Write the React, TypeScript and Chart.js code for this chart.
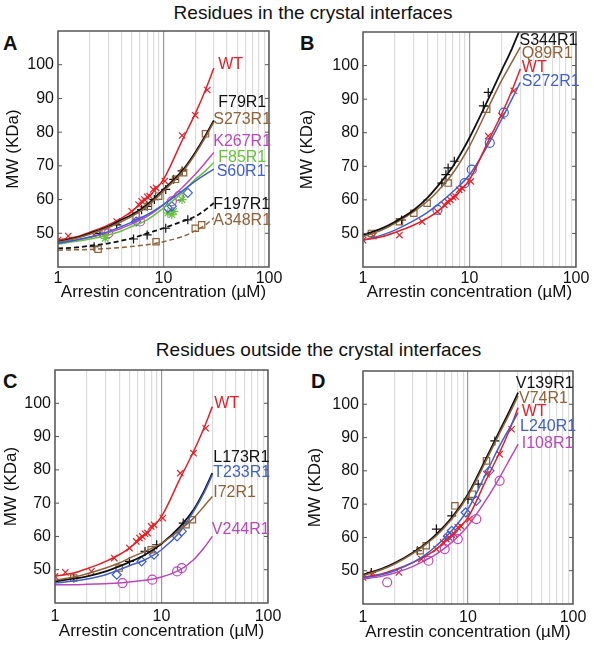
import React, { useEffect, useRef } from 'react';
import { Chart, registerables } from 'chart.js';
Chart.register(...registerables);

// ---------- data ----------
const FIT_X = [1, 1.5, 2, 3, 4, 5, 7, 10, 15, 20, 25, 30];
const X_TICKS = [1, 2, 3, 4, 5, 6, 7, 8, 9, 10, 20, 30, 40, 50, 60, 70, 80, 90, 100];
const X_LABELS = [1, 10, 100];
const Y_TICKS = [50, 60, 70, 80, 90, 100];

const WT_FIT = [48, 49, 50.3, 52.5, 54.5, 56.5, 60.5, 66, 77.5, 85.5, 92.5, 99];
const WT_PX = [1, 1.25, 2.2, 3.6, 5, 5.8, 6.2, 6.6, 7, 7.4, 8, 8.5, 10.3, 15, 20, 26];
const WT_PY = [48, 49.2, 49.5, 53.5, 56.5, 58.5, 59.5, 60, 60.8, 61, 63, 63.5, 65.5, 79, 85, 92.5];

// Panel A
const F79_FIT = [47.5, 48.7, 50, 52, 54, 55.5, 58.5, 63, 68.5, 74, 79, 83.5];
const F79_PX = [2.5, 3.6, 6.2, 7, 8.2, 10.5, 12.5, 15];
const F79_PY = [50, 52.5, 57, 58, 60, 63, 66, 68.5];
const S273_FIT = [47.3, 48.5, 49.7, 51.7, 53.5, 55, 58, 62.5, 68, 73.5, 78.5, 83];
const S273_PX = [2.8, 5.5, 7.2, 9, 13, 15.5, 25];
const S273_PY = [50.5, 55, 58, 61, 66, 68, 79.5];
const K267_FIT = [47, 48, 48.8, 50.2, 51.5, 52.8, 55, 58.5, 63.5, 67.5, 71, 74];
const K267_PX = [3, 6, 12, 14];
const K267_PY = [50, 53.5, 59.5, 61];
const F85_FIT = [46.8, 47.6, 48.3, 49.5, 50.7, 52, 54, 57.5, 62, 66, 68.5, 71];
const F85_PX = [2.8, 11, 12, 12.5, 15];
const F85_PY = [48.5, 56, 55.5, 56.5, 60];
const S60_FIT = [47, 48, 48.9, 50.5, 52, 53.3, 55.5, 58.5, 62.5, 65.5, 67.5, 69];
const S60_PX = [5.5, 11, 12, 17];
const S60_PY = [53.5, 57.5, 58, 62];
const F197_FIT = [45.5, 45.8, 46.3, 47, 47.8, 48.5, 50, 51.5, 53.5, 55, 57, 59];
const F197_PX = [2.2, 5.2, 7, 10.5, 17];
const F197_PY = [46, 48.3, 49.5, 51.5, 54];
const A348_FIT = [45, 45.1, 45.2, 45.5, 45.8, 46.1, 46.6, 47.5, 49, 50.7, 52.5, 54.6];
const A348_PX = [2.4, 8.5, 20, 23];
const A348_PY = [45.3, 47.5, 51.5, 52.5];

// Panel B
const S344_FIT = [49.5, 51.5, 53.5, 57, 60.5, 64, 70, 78.5, 90, 98.5, 105, 111];
const S344_PX = [2.3, 5.5, 6, 6.3, 7.2, 13.5, 15];
const S344_PY = [54, 65, 67.5, 69.5, 71.5, 88, 92];
const Q89_FIT = [49, 51, 53, 56.5, 59.5, 62.5, 68, 76, 87.5, 95.5, 101, 105.5];
const Q89_PX = [1.2, 2.2, 3, 4, 6.3, 14.5];
const Q89_PY = [50, 53.5, 56, 59, 65, 87];
const S272_FIT = [48, 49.5, 51, 53.8, 56.2, 58.5, 62.5, 67.5, 76.5, 84, 90, 95];
const S272_PX = [5, 9, 10.5, 15.5, 21];
const S272_PY = [57, 65, 69, 77, 86];

// Panel C
const L173_FIT = [46.5, 47.3, 48, 49.5, 51, 52.3, 54.5, 57.8, 63, 68, 73.5, 79];
const L173_PX = [1.5, 5, 7, 9, 16];
const L173_PY = [47.5, 52.5, 55.5, 57.5, 64];
const T233_FIT = [46, 46.6, 47.2, 48.5, 50, 51.2, 53, 56, 61.5, 67.5, 73, 78.5];
const T233_PX = [3.8, 6.5, 8.5, 14, 15.5];
const T233_PY = [48.5, 52.5, 54.5, 60, 61.5];
const I72_FIT = [46.8, 47.8, 48.8, 50.5, 52, 53.5, 55.5, 58, 62, 65.5, 69, 72];
const I72_PX = [1.5, 4, 8, 17, 19.5];
const I72_PY = [47.5, 50.5, 56, 63.5, 65];
const V244_FIT = [45.5, 45.5, 45.6, 45.8, 46, 46.3, 46.8, 47.8, 50, 53, 56.5, 60];
const V244_PX = [4.3, 8.2, 14, 15.5];
const V244_PY = [46, 47, 49.5, 50.5];

// Panel D
const V139_FIT = [48.8, 50.6, 52.3, 55.5, 58.3, 61, 66, 73, 84, 92, 98.2, 103.5];
const V139_PX = [1.2, 3.3, 5, 7, 10, 12.5, 18];
const V139_PY = [49.5, 56, 62.5, 66.5, 71.5, 76, 89];
const V74_FIT = [48.5, 50.3, 52, 55.2, 58, 60.5, 65.5, 72.5, 83.3, 91.3, 97.3, 102.5];
const V74_PX = [3.5, 4, 7.5, 11, 15];
const V74_PY = [56, 57.5, 69.5, 73, 83];
const L240_FIT = [47.8, 48.8, 50, 52.5, 55, 57.5, 62, 68.5, 79.5, 87.5, 93, 97.5];
const L240_PX = [6.5, 7, 9.5, 12, 16];
const L240_PY = [60.5, 62, 67.5, 71, 80];
const I108_FIT = [47.5, 48.3, 49.3, 51.3, 53.3, 55, 58.5, 63.5, 71.5, 78, 83.5, 88];
const I108_PX = [1.7, 4.2, 6, 8, 12, 20];
const I108_PY = [46.5, 53, 56.5, 59.5, 65.5, 77];

// ---------- styles ----------
const RED = '#e41f26';
const BLACK = '#111111';
const BROWN = '#8f6238';
const MAGENTA = '#bb48bb';
const GREEN = '#66c23a';
const BLUE = '#3f5fcf';
const FONT = '"Liberation Sans", Arial, sans-serif';

type Series = {
  name: string; fit: number[]; px: number[]; py: number[]; color: string;
  marker: string; dashed?: boolean; lx: number; ly: number;
};
type PanelCfg = {
  l: number; t: number; r: number; b: number; yW: number; xH: number; xPad: number;
  series: Series[];
};

const WT = (lx: number, ly: number): Series => ({ name: 'WT', fit: WT_FIT, px: WT_PX, py: WT_PY, color: RED, marker: 'crossRot', lx, ly });

const PANELS: PanelCfg[] = [
  {
    l: 58, t: 31, r: 269, b: 267, yW: 57, xH: 40, xPad: 1.5,
    series: [
      { name: 'A348R1', fit: A348_FIT, px: A348_PX, py: A348_PY, color: BROWN, marker: 'rect', dashed: true, lx: 29.6, ly: 53.8 },
      { name: 'F197R1', fit: F197_FIT, px: F197_PX, py: F197_PY, color: BLACK, marker: 'cross', dashed: true, lx: 29.6, ly: 58.6 },
      { name: 'S60R1', fit: S60_FIT, px: S60_PX, py: S60_PY, color: BLUE, marker: 'rectRot', lx: 31.9, ly: 68.3 },
      { name: 'F85R1', fit: F85_FIT, px: F85_PX, py: F85_PY, color: GREEN, marker: 'star', lx: 33, ly: 72.5 },
      { name: 'K267R1', fit: K267_FIT, px: K267_PX, py: K267_PY, color: MAGENTA, marker: 'circle', lx: 29.6, ly: 77.2 },
      { name: 'S273R1', fit: S273_FIT, px: S273_PX, py: S273_PY, color: BROWN, marker: 'rect', lx: 29.6, ly: 83.7 },
      { name: 'F79R1', fit: F79_FIT, px: F79_PX, py: F79_PY, color: BLACK, marker: 'cross', lx: 33, ly: 88.8 },
      WT(33, 100),
    ],
  },
  {
    l: 363, t: 32, r: 576, b: 267, yW: 68, xH: 40, xPad: 1.5,
    series: [
      { name: 'S344R1', fit: S344_FIT, px: S344_PX, py: S344_PY, color: BLACK, marker: 'cross', lx: 29.5, ly: 107.5 },
      { name: 'Q89R1', fit: Q89_FIT, px: Q89_PX, py: Q89_PY, color: BROWN, marker: 'rect', lx: 31, ly: 103.6 },
      WT(31, 99.3),
      { name: 'S272R1', fit: S272_FIT, px: S272_PX, py: S272_PY, color: BLUE, marker: 'circle', lx: 31, ly: 95.3 },
    ],
  },
  {
    l: 55, t: 370, r: 268, b: 603, yW: 55.5, xH: 43, xPad: 4.4,
    series: [
      { name: 'V244R1', fit: V244_FIT, px: V244_PX, py: V244_PY, color: MAGENTA, marker: 'circle', lx: 29.7, ly: 62.2 },
      { name: 'I72R1', fit: I72_FIT, px: I72_PX, py: I72_PY, color: BROWN, marker: 'rect', lx: 30.6, ly: 73.3 },
      { name: 'T233R1', fit: T233_FIT, px: T233_PX, py: T233_PY, color: BLUE, marker: 'rectRot', lx: 30.6, ly: 79.1 },
      { name: 'L173R1', fit: L173_FIT, px: L173_PX, py: L173_PY, color: BLACK, marker: 'cross', lx: 30.6, ly: 83.6 },
      WT(31.3, 100),
    ],
  },
  {
    l: 363, t: 371, r: 573, b: 604, yW: 60, xH: 43, xPad: 4.4,
    series: [
      { name: 'I108R1', fit: I108_FIT, px: I108_PX, py: I108_PY, color: MAGENTA, marker: 'circle', lx: 32.5, ly: 88.2 },
      { name: 'L240R1', fit: L240_FIT, px: L240_PX, py: L240_PY, color: BLUE, marker: 'rectRot', lx: 31.3, ly: 93.2 },
      WT(32.5, 97.7),
      { name: 'V74R1', fit: V74_FIT, px: V74_PX, py: V74_PY, color: BROWN, marker: 'rect', lx: 30.6, ly: 101.7 },
      { name: 'V139R1', fit: V139_FIT, px: V139_PX, py: V139_PY, color: BLACK, marker: 'cross', lx: 28.5, ly: 106.2 },
    ],
  },
];

function Panel({ cfg }: { cfg: PanelCfg }) {
  const ref = useRef<HTMLCanvasElement>(null);
  useEffect(() => {
    const datasets: any[] = [];
    cfg.series.forEach((s) => {
      datasets.push({
        data: FIT_X.map((x, i) => ({ x, y: s.fit[i] })),
        showLine: true,
        borderColor: s.color,
        borderWidth: s.color === BLACK ? 1.8 : 1.5,
        borderDash: s.dashed ? [5, 3] : [],
        pointRadius: 0,
        cubicInterpolationMode: 'monotone',
        fill: false,
      });
    });
    cfg.series.forEach((s) => {
      datasets.push({
        data: s.px.map((x, i) => ({ x, y: s.py[i] })),
        showLine: false,
        borderColor: s.color,
        backgroundColor: 'rgba(0,0,0,0)',
        pointStyle: s.marker,
        pointRadius: 4.5,
        pointBorderWidth: 1.2,
      });
    });

    const decor = {
      id: 'decor',
      afterDatasetsDraw(chart: any) {
        const { ctx, chartArea: a, scales } = chart;
        ctx.save();
        ctx.strokeStyle = '#555';
        ctx.lineWidth = 1.5;
        ctx.strokeRect(a.left, a.top, a.right - a.left, a.bottom - a.top);
        ctx.lineWidth = 1;
        for (const v of Y_TICKS) {
          const y = scales.y.getPixelForValue(v);
          ctx.beginPath();
          ctx.moveTo(a.left, y); ctx.lineTo(a.left + 4, y);
          ctx.moveTo(a.right, y); ctx.lineTo(a.right - 4, y);
          ctx.stroke();
        }
        ctx.font = '16px ' + FONT;
        ctx.textBaseline = 'middle';
        ctx.textAlign = 'left';
        for (const s of cfg.series) {
          ctx.fillStyle = s.color;
          ctx.fillText(s.name, scales.x.getPixelForValue(s.lx), scales.y.getPixelForValue(s.ly));
        }
        ctx.restore();
      },
    };

    const chart = new Chart(ref.current!, {
      type: 'scatter',
      data: { datasets },
      options: {
        animation: false,
        responsive: false,
        events: [],
        layout: {
          padding: {
            left: cfg.l - cfg.yW,
            top: cfg.t,
            right: 594 - cfg.r,
            bottom: 648 - cfg.b - cfg.xH,
          },
        },
        plugins: { legend: { display: false }, tooltip: { enabled: false } },
        scales: {
          x: {
            type: 'logarithmic',
            min: 1,
            max: 100,
            afterBuildTicks: (s: any) => { s.ticks = X_TICKS.map((v) => ({ value: v })); },
            afterFit: (s: any) => { s.height = cfg.xH; },
            border: { display: false },
            grid: {
              drawTicks: false,
              lineWidth: 1.2,
              color: (c: any) => (c.tick && c.tick.value === 10 ? '#9a9a9a' : '#dcdcdc'),
            },
            ticks: {
              autoSkip: false,
              maxRotation: 0,
              padding: cfg.xPad,
              color: '#111',
              font: { family: FONT, size: 16 },
              callback: (v: any) => (X_LABELS.includes(Number(v)) ? String(v) : ''),
            },
            title: {
              display: true,
              text: 'Arrestin concentration (\u00B5M)',
              color: '#111',
              font: { family: FONT, size: 17 },
              padding: { top: 0, bottom: 4 },
            },
          },
          y: {
            type: 'linear',
            min: 40,
            max: 110,
            afterBuildTicks: (s: any) => { s.ticks = Y_TICKS.map((v) => ({ value: v })); },
            afterFit: (s: any) => { s.width = cfg.yW; },
            border: { display: false },
            grid: { display: false, drawTicks: false },
            ticks: {
              padding: 4,
              color: '#111',
              font: { family: FONT, size: 16 },
            },
            title: {
              display: true,
              text: 'MW (KDa)',
              color: '#111',
              font: { family: FONT, size: 17 },
              padding: { top: 2, bottom: 0 },
            },
          },
        },
      },
      plugins: [decor],
    } as any);
    return () => chart.destroy();
  }, [cfg]);
  return (
    <canvas
      ref={ref}
      width={594}
      height={648}
      style={{ position: 'absolute', left: 0, top: 0, width: 594, height: 648 }}
    />
  );
}

const textStyle = (left: number, top: number, size: number, bold = false): React.CSSProperties => ({
  position: 'absolute', left, top, fontFamily: FONT, fontSize: size, fontWeight: bold ? 'bold' : 'normal',
  color: '#111', lineHeight: 1, whiteSpace: 'nowrap',
});

export default function App() {
  return (
    <div style={{ position: 'absolute', left: 0, top: 0, width: 594, height: 648, background: '#fff', overflow: 'hidden' }}>
      <div style={{ ...textStyle(0, 3, 19), width: 626, textAlign: 'center' }}>Residues in the crystal interfaces</div>
      <div style={{ ...textStyle(0, 340, 19), width: 637, textAlign: 'center' }}>Residues outside the crystal interfaces</div>
      <div style={textStyle(3, 33, 20, true)}>A</div>
      <div style={textStyle(300, 33, 20, true)}>B</div>
      <div style={textStyle(3, 371, 20, true)}>C</div>
      <div style={textStyle(311, 371, 20, true)}>D</div>
      {PANELS.map((p, i) => (
        <Panel key={i} cfg={p} />
      ))}
    </div>
  );
}
